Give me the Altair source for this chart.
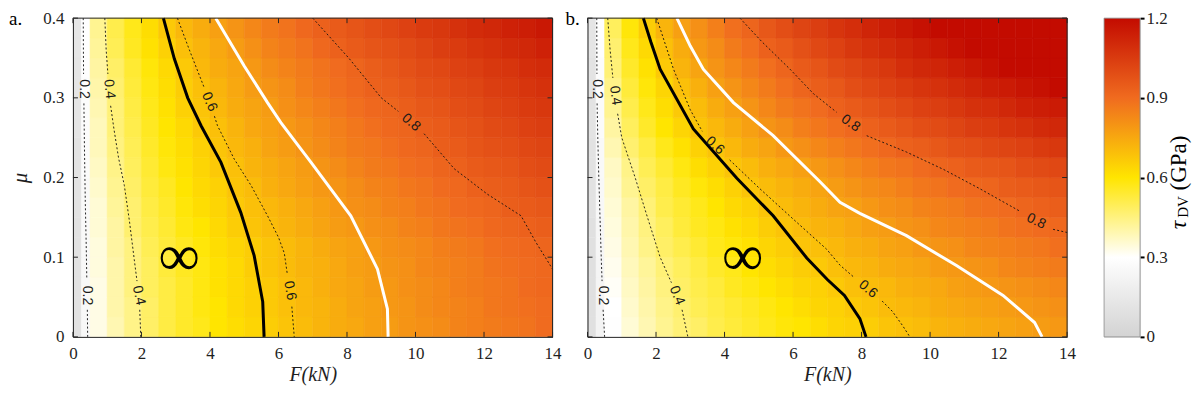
import altair as alt
import pandas as pd

# ---------------- data ----------------
X_TICKS = [0, 2, 4, 6, 8, 10, 12, 14]
Y_TICKS = [0, 0.1, 0.2, 0.3, 0.4]
CB_TICKS = [0, 0.3, 0.6, 0.9, 1.2]

CMAP_VALUES = [0, 0.3, 0.6, 0.9, 1.2]
CMAP_COLORS = ["#d3d3d3", "#ffffff", "#ffe500", "#f06b1f", "#c30b00"]

# cell edges of the colour field
F_EDGES = [0, 0.25, 0.5, 1.0, 1.5, 2.0, 2.5, 3.0, 3.5, 4.0, 4.5, 5.0, 5.5, 6.0, 6.5,
           7.0, 7.5, 8.0, 8.5, 9.0, 9.5, 10.0, 10.5, 11.0, 11.5, 12.0, 12.5, 13.0, 13.5, 14.0]
MU_EDGES = [0, 0.025, 0.05, 0.075, 0.1, 0.125, 0.15, 0.175, 0.2, 0.225, 0.25, 0.275, 0.3,
            0.325, 0.35, 0.375, 0.4]

# tau_DV colour values, one row per mu band (bottom to top), panel a
TAU_A = [
    [0.10, 0.25, 0.33, 0.39, 0.44, 0.48, 0.52, 0.55, 0.57, 0.60, 0.62, 0.64, 0.66, 0.68, 0.70, 0.72, 0.74, 0.75, 0.77, 0.78, 0.80, 0.81, 0.82, 0.84, 0.85, 0.86, 0.87, 0.88, 0.90],
    [0.10, 0.25, 0.33, 0.40, 0.44, 0.48, 0.52, 0.55, 0.58, 0.60, 0.63, 0.65, 0.67, 0.69, 0.71, 0.72, 0.74, 0.76, 0.77, 0.79, 0.80, 0.82, 0.83, 0.84, 0.85, 0.87, 0.88, 0.89, 0.90],
    [0.10, 0.25, 0.33, 0.40, 0.45, 0.49, 0.52, 0.55, 0.58, 0.61, 0.63, 0.65, 0.67, 0.69, 0.71, 0.73, 0.75, 0.76, 0.78, 0.79, 0.81, 0.82, 0.83, 0.85, 0.86, 0.87, 0.88, 0.90, 0.91],
    [0.10, 0.25, 0.34, 0.40, 0.45, 0.49, 0.53, 0.56, 0.58, 0.61, 0.63, 0.66, 0.68, 0.70, 0.72, 0.73, 0.75, 0.77, 0.78, 0.80, 0.81, 0.83, 0.84, 0.85, 0.86, 0.88, 0.89, 0.90, 0.91],
    [0.10, 0.26, 0.34, 0.41, 0.45, 0.50, 0.53, 0.56, 0.59, 0.62, 0.64, 0.66, 0.68, 0.70, 0.72, 0.74, 0.76, 0.77, 0.79, 0.81, 0.82, 0.83, 0.85, 0.86, 0.87, 0.89, 0.90, 0.91, 0.92],
    [0.10, 0.26, 0.35, 0.41, 0.47, 0.51, 0.54, 0.58, 0.60, 0.63, 0.66, 0.68, 0.70, 0.72, 0.74, 0.76, 0.78, 0.79, 0.81, 0.82, 0.84, 0.85, 0.87, 0.88, 0.89, 0.91, 0.92, 0.93, 0.94],
    [0.11, 0.26, 0.35, 0.42, 0.47, 0.52, 0.55, 0.59, 0.62, 0.64, 0.67, 0.69, 0.71, 0.73, 0.75, 0.77, 0.79, 0.81, 0.82, 0.84, 0.85, 0.87, 0.88, 0.90, 0.91, 0.92, 0.94, 0.95, 0.96],
    [0.11, 0.26, 0.36, 0.43, 0.48, 0.53, 0.56, 0.60, 0.63, 0.65, 0.68, 0.70, 0.73, 0.75, 0.77, 0.79, 0.80, 0.82, 0.84, 0.85, 0.87, 0.88, 0.90, 0.91, 0.93, 0.94, 0.95, 0.97, 0.98],
    [0.11, 0.27, 0.37, 0.44, 0.49, 0.54, 0.58, 0.61, 0.64, 0.67, 0.69, 0.72, 0.74, 0.76, 0.78, 0.80, 0.82, 0.84, 0.86, 0.87, 0.89, 0.90, 0.92, 0.93, 0.95, 0.96, 0.97, 0.99, 1.00],
    [0.11, 0.27, 0.38, 0.45, 0.50, 0.55, 0.59, 0.62, 0.65, 0.68, 0.71, 0.73, 0.76, 0.78, 0.80, 0.82, 0.84, 0.86, 0.87, 0.89, 0.91, 0.92, 0.94, 0.95, 0.97, 0.98, 0.99, 1.01, 1.02],
    [0.12, 0.28, 0.38, 0.46, 0.51, 0.56, 0.60, 0.63, 0.67, 0.69, 0.72, 0.75, 0.77, 0.79, 0.81, 0.83, 0.85, 0.87, 0.89, 0.91, 0.92, 0.94, 0.95, 0.97, 0.98, 1.00, 1.01, 1.03, 1.04],
    [0.12, 0.28, 0.39, 0.46, 0.52, 0.57, 0.61, 0.65, 0.68, 0.71, 0.74, 0.76, 0.78, 0.81, 0.83, 0.85, 0.87, 0.89, 0.91, 0.92, 0.94, 0.96, 0.97, 0.99, 1.00, 1.02, 1.03, 1.05, 1.06],
    [0.12, 0.29, 0.40, 0.47, 0.53, 0.58, 0.62, 0.66, 0.69, 0.72, 0.75, 0.78, 0.80, 0.82, 0.85, 0.87, 0.89, 0.91, 0.93, 0.94, 0.96, 0.98, 0.99, 1.01, 1.02, 1.04, 1.05, 1.07, 1.08],
    [0.12, 0.29, 0.41, 0.48, 0.54, 0.59, 0.63, 0.67, 0.71, 0.74, 0.76, 0.79, 0.82, 0.84, 0.86, 0.88, 0.90, 0.92, 0.94, 0.96, 0.98, 1.00, 1.01, 1.03, 1.04, 1.06, 1.07, 1.09, 1.10],
    [0.13, 0.30, 0.42, 0.50, 0.56, 0.61, 0.65, 0.69, 0.72, 0.75, 0.78, 0.81, 0.84, 0.86, 0.88, 0.91, 0.93, 0.95, 0.97, 0.98, 1.00, 1.02, 1.04, 1.05, 1.07, 1.08, 1.10, 1.11, 1.13],
    [0.13, 0.30, 0.43, 0.51, 0.57, 0.62, 0.67, 0.71, 0.74, 0.77, 0.80, 0.83, 0.86, 0.88, 0.91, 0.93, 0.95, 0.97, 0.99, 1.01, 1.03, 1.05, 1.06, 1.08, 1.10, 1.11, 1.13, 1.14, 1.16],
]
# panel b
TAU_B = [
    [0.09, 0.22, 0.29, 0.35, 0.39, 0.43, 0.46, 0.48, 0.51, 0.53, 0.55, 0.57, 0.59, 0.60, 0.62, 0.64, 0.65, 0.66, 0.68, 0.69, 0.70, 0.72, 0.73, 0.74, 0.75, 0.76, 0.77, 0.78, 0.79],
    [0.09, 0.22, 0.30, 0.36, 0.40, 0.44, 0.47, 0.50, 0.52, 0.54, 0.56, 0.58, 0.60, 0.62, 0.64, 0.65, 0.67, 0.68, 0.70, 0.71, 0.72, 0.74, 0.75, 0.76, 0.77, 0.78, 0.79, 0.80, 0.81],
    [0.09, 0.23, 0.31, 0.37, 0.41, 0.45, 0.48, 0.51, 0.53, 0.56, 0.58, 0.60, 0.62, 0.64, 0.65, 0.67, 0.69, 0.70, 0.71, 0.73, 0.74, 0.75, 0.77, 0.78, 0.79, 0.80, 0.81, 0.82, 0.83],
    [0.09, 0.23, 0.32, 0.38, 0.42, 0.46, 0.49, 0.52, 0.55, 0.57, 0.60, 0.62, 0.64, 0.66, 0.67, 0.69, 0.71, 0.72, 0.74, 0.75, 0.76, 0.78, 0.79, 0.80, 0.81, 0.83, 0.84, 0.85, 0.86],
    [0.09, 0.24, 0.33, 0.39, 0.44, 0.48, 0.51, 0.54, 0.57, 0.59, 0.61, 0.64, 0.66, 0.68, 0.69, 0.71, 0.73, 0.74, 0.76, 0.77, 0.79, 0.80, 0.81, 0.83, 0.84, 0.85, 0.86, 0.87, 0.89],
    [0.09, 0.24, 0.34, 0.40, 0.45, 0.49, 0.53, 0.56, 0.58, 0.61, 0.63, 0.66, 0.68, 0.70, 0.72, 0.73, 0.75, 0.77, 0.78, 0.80, 0.81, 0.83, 0.84, 0.85, 0.86, 0.88, 0.89, 0.90, 0.91],
    [0.10, 0.25, 0.35, 0.41, 0.46, 0.51, 0.54, 0.57, 0.60, 0.63, 0.65, 0.68, 0.70, 0.72, 0.74, 0.76, 0.77, 0.79, 0.81, 0.82, 0.84, 0.85, 0.86, 0.88, 0.89, 0.90, 0.92, 0.93, 0.94],
    [0.10, 0.25, 0.36, 0.43, 0.48, 0.52, 0.56, 0.59, 0.62, 0.65, 0.68, 0.70, 0.72, 0.74, 0.76, 0.78, 0.80, 0.82, 0.83, 0.85, 0.87, 0.88, 0.90, 0.91, 0.92, 0.94, 0.95, 0.96, 0.97],
    [0.10, 0.26, 0.37, 0.44, 0.50, 0.54, 0.58, 0.62, 0.65, 0.68, 0.70, 0.73, 0.75, 0.77, 0.79, 0.81, 0.83, 0.85, 0.87, 0.88, 0.90, 0.92, 0.93, 0.95, 0.96, 0.97, 0.99, 1.00, 1.01],
    [0.10, 0.26, 0.39, 0.47, 0.52, 0.57, 0.61, 0.65, 0.68, 0.71, 0.74, 0.76, 0.79, 0.81, 0.83, 0.85, 0.87, 0.89, 0.91, 0.93, 0.94, 0.96, 0.98, 0.99, 1.01, 1.02, 1.03, 1.05, 1.06],
    [0.11, 0.27, 0.41, 0.49, 0.55, 0.60, 0.64, 0.68, 0.71, 0.74, 0.77, 0.80, 0.82, 0.85, 0.87, 0.89, 0.91, 0.93, 0.95, 0.97, 0.99, 1.00, 1.02, 1.04, 1.05, 1.07, 1.08, 1.10, 1.11],
    [0.11, 0.27, 0.43, 0.51, 0.57, 0.62, 0.67, 0.70, 0.74, 0.77, 0.80, 0.83, 0.86, 0.88, 0.90, 0.93, 0.95, 0.97, 0.99, 1.01, 1.03, 1.04, 1.06, 1.08, 1.09, 1.11, 1.13, 1.14, 1.15],
    [0.11, 0.28, 0.44, 0.53, 0.59, 0.64, 0.69, 0.73, 0.77, 0.80, 0.83, 0.86, 0.89, 0.92, 0.94, 0.96, 0.99, 1.01, 1.03, 1.05, 1.07, 1.08, 1.10, 1.12, 1.14, 1.15, 1.17, 1.18, 1.20],
    [0.11, 0.28, 0.46, 0.55, 0.61, 0.67, 0.72, 0.76, 0.80, 0.83, 0.86, 0.89, 0.92, 0.95, 0.97, 1.00, 1.02, 1.04, 1.06, 1.09, 1.11, 1.12, 1.14, 1.16, 1.18, 1.20, 1.20, 1.20, 1.20],
    [0.12, 0.29, 0.47, 0.57, 0.63, 0.69, 0.74, 0.79, 0.82, 0.86, 0.89, 0.93, 0.95, 0.98, 1.01, 1.03, 1.06, 1.08, 1.10, 1.12, 1.14, 1.16, 1.18, 1.20, 1.20, 1.20, 1.20, 1.20, 1.20],
    [0.12, 0.30, 0.49, 0.59, 0.66, 0.72, 0.77, 0.81, 0.85, 0.89, 0.92, 0.96, 0.99, 1.02, 1.04, 1.07, 1.09, 1.12, 1.14, 1.16, 1.18, 1.20, 1.20, 1.20, 1.20, 1.20, 1.20, 1.20, 1.20],
]

# contour lines, (F, mu) points, split where the labels sit
A_C02 = [[(0.30, 0.40), (0.305, 0.36), (0.31, 0.33)],
         [(0.32, 0.293), (0.335, 0.24), (0.36, 0.17), (0.385, 0.12), (0.405, 0.072)],
         [(0.42, 0.034), (0.43, 0.0)]]
A_C04 = [[(0.93, 0.40), (0.97, 0.36), (1.02, 0.33)],
         [(1.10, 0.29), (1.20, 0.26), (1.33, 0.225), (1.50, 0.19), (1.65, 0.145), (1.79, 0.097), (1.87, 0.07)],
         [(1.95, 0.034), (1.98, 0.0)]]
A_C06 = [[(3.05, 0.40), (3.40, 0.36), (3.83, 0.313)],
         [(4.13, 0.277), (4.22, 0.265), (4.71, 0.223), (5.20, 0.19), (5.68, 0.152), (6.00, 0.125), (6.17, 0.105), (6.26, 0.078)],
         [(6.39, 0.038), (6.46, 0.0)]]
A_C08 = [[(7.0, 0.40), (8.05, 0.35), (9.0, 0.30), (9.5, 0.283)],
         [(10.25, 0.255), (11.13, 0.211), (12.1, 0.179), (13.08, 0.152), (13.51, 0.119), (13.93, 0.09), (14.0, 0.085)]]
A_BLACK = [(2.64, 0.40), (2.96, 0.349), (3.35, 0.30), (3.74, 0.265), (4.32, 0.219), (4.90, 0.156),
           (5.29, 0.102), (5.54, 0.044), (5.58, 0.0)]
A_WHITE = [(4.17, 0.40), (5.0, 0.34), (5.68, 0.294), (6.07, 0.269), (6.65, 0.236), (6.95, 0.219),
           (8.11, 0.152), (8.89, 0.085), (9.18, 0.035), (9.20, 0.0)]
A_LAB_F = [0.315, 0.415, 1.06, 1.92, 3.98, 6.33, 9.87]
A_LAB_MU = [0.311, 0.052, 0.311, 0.052, 0.295, 0.058, 0.269]
A_LAB_TXT = ["0.2", "0.2", "0.4", "0.4", "0.6", "0.6", "0.8"]
A_LAB_ANG = [90, 90, 84, 78, 66, 80, 41]

B_C02 = [[(0.27, 0.40), (0.275, 0.33)],
         [(0.28, 0.293), (0.30, 0.25), (0.33, 0.20), (0.40, 0.10), (0.425, 0.07)],
         [(0.455, 0.034), (0.50, 0.0)]]
B_C04 = [[(0.59, 0.40), (0.66, 0.36), (0.74, 0.325)],
         [(0.88, 0.28), (1.0, 0.25), (1.39, 0.20), (1.75, 0.15), (2.12, 0.10), (2.45, 0.068)],
         [(2.76, 0.034), (2.93, 0.0)]]
B_C06 = [[(2.02, 0.40), (2.51, 0.336), (3.0, 0.285), (3.35, 0.258)],
         [(4.15, 0.222), (5.03, 0.186), (6.0, 0.148), (6.98, 0.110), (7.37, 0.09), (7.8, 0.074)],
         [(8.6, 0.045), (8.9, 0.032), (9.2, 0.014), (9.41, 0.0)]]
B_C08 = [[(4.45, 0.40), (5.1, 0.37), (5.91, 0.336), (6.6, 0.305), (7.27, 0.282)],
         [(8.15, 0.2525), (9.31, 0.232), (10.4, 0.21), (11.45, 0.186), (12.61, 0.158)],
         [(13.59, 0.135), (14.0, 0.131)]]
B_BLACK = [(1.63, 0.40), (1.85, 0.37), (2.12, 0.336), (3.09, 0.261), (4.36, 0.199), (5.42, 0.152),
           (6.40, 0.099), (7.0, 0.072), (7.5, 0.052), (7.95, 0.023), (8.13, 0.0)]
B_WHITE = [(2.61, 0.40), (3.0, 0.365), (3.38, 0.336), (4.26, 0.294), (5.42, 0.2525), (6.78, 0.195),
           (7.37, 0.169), (7.95, 0.155), (9.31, 0.127), (10.77, 0.0895), (12.13, 0.052), (13.05, 0.018), (13.27, 0.0)]
B_LAB_F = [0.28, 0.44, 0.81, 2.61, 3.72, 8.19, 7.68, 13.1]
B_LAB_MU = [0.311, 0.052, 0.303, 0.052, 0.240, 0.060, 0.268, 0.145]
B_LAB_TXT = ["0.2", "0.2", "0.4", "0.4", "0.6", "0.6", "0.8", "0.8"]
B_LAB_ANG = [90, 90, 82, 68, 42, 40, 35, 25]

INF_A = (3.10, 0.099)
INF_B = (4.53, 0.099)

# ---------------- styles ----------------
W, H = 480, 319
SERIF = "Liberation Serif"
SANS = "Liberation Sans"
BOX = "#262626"
TXT = "#1f1f1f"
TICK = 5

CS = alt.Scale(domain=CMAP_VALUES, range=CMAP_COLORS, interpolate="rgb")
XS = alt.Scale(domain=[0, 14], nice=False, zero=False)
YS = alt.Scale(domain=[0, 0.4], nice=False, zero=False)


def heat_df(rows):
    recs = []
    for i, row in enumerate(rows):
        for j, v in enumerate(row):
            recs.append(dict(F0=F_EDGES[j], F1=F_EDGES[j + 1], m0=MU_EDGES[i], m1=MU_EDGES[i + 1], tau=v))
    return pd.DataFrame(recs)


def lines_df(contours):
    recs = []
    for cname, segs in contours:
        for k, seg in enumerate(segs):
            for i, (f, m) in enumerate(seg):
                recs.append(dict(F=f, mu=m, seg=f"{cname}-{k}", i=i))
    return pd.DataFrame(recs)


def panel(tau_rows, dashed, black, white, lab_f, lab_mu, lab_txt, lab_ang, inf, tag, show_y):
    xa = alt.Axis(values=X_TICKS, title="F(kN)", ticks=False, grid=False, domainColor=BOX,
                  domainWidth=1, labelFont=SERIF, labelFontSize=17, labelColor=TXT, labelPadding=9,
                  labelFlush=False, labelOverlap=False, titleFont=SERIF, titleFontSize=20,
                  titleFontStyle="italic", titleFontWeight="normal", titleColor=TXT, titlePadding=3,
                  zindex=1)
    if show_y:
        ya = alt.Axis(values=Y_TICKS, format="~f", title="μ", ticks=False, grid=False, domainColor=BOX,
                      domainWidth=1, labelFont=SERIF, labelFontSize=17, labelColor=TXT, labelPadding=9,
                      labelOverlap=False, titleFont=SERIF, titleFontSize=21, titleFontStyle="italic",
                      titleFontWeight="normal", titleColor=TXT, titlePadding=12, zindex=1)
    else:
        ya = alt.Axis(values=Y_TICKS, labels=False, title=None, ticks=False, grid=False,
                      domainColor=BOX, domainWidth=1, zindex=1)

    def X(f):
        return alt.X(f, scale=XS, axis=xa)

    def Y(f):
        return alt.Y(f, scale=YS, axis=ya)

    heat = alt.Chart(heat_df(tau_rows)).mark_rect(strokeWidth=0.6).encode(
        x=X("F0:Q"), x2="F1:Q", y=Y("m0:Q"), y2="m1:Q",
        color=alt.Color("tau:Q", scale=CS, legend=None),
        stroke=alt.Stroke("tau:Q", scale=CS, legend=None),
    )
    dash = alt.Chart(lines_df(dashed)).mark_line(color="#111111", strokeWidth=0.9, strokeDash=[2, 2.2]).encode(
        x=X("F:Q"), y=Y("mu:Q"), detail="seg:N", order="i:Q")
    blk = alt.Chart(lines_df([("k", [black])])).mark_line(color="black", strokeWidth=3).encode(
        x=X("F:Q"), y=Y("mu:Q"), order="i:Q")
    wht = alt.Chart(lines_df([("w", [white])])).mark_line(color="white", strokeWidth=3).encode(
        x=X("F:Q"), y=Y("mu:Q"), order="i:Q")
    labs = alt.Chart(pd.DataFrame(dict(F=lab_f, mu=lab_mu, lab=lab_txt, ang=lab_ang))).mark_text(
        font=SANS, fontSize=14, color="#1a1a1a", baseline="middle", align="center").encode(
        x=X("F:Q"), y=Y("mu:Q"), text="lab:N", angle=alt.Angle("ang:Q", scale=None))
    infm = alt.Chart(pd.DataFrame(dict(F=[inf[0]], mu=[inf[1]], s=["∞"]))).mark_text(
        font=SERIF, fontSize=58, color="black", baseline="middle", align="center").encode(
        x=X("F:Q"), y=Y("mu:Q"), text="s:N")
    xt = pd.DataFrame(dict(t=X_TICKS))
    yt = pd.DataFrame(dict(t=Y_TICKS))
    tb = alt.Chart(xt).mark_rule(color=BOX, strokeWidth=1).encode(
        x=X("t:Q"), y=alt.value(H), y2=alt.value(H - TICK))
    tt = alt.Chart(xt).mark_rule(color=BOX, strokeWidth=1).encode(
        x=X("t:Q"), y=alt.value(0), y2=alt.value(TICK))
    tl = alt.Chart(yt).mark_rule(color=BOX, strokeWidth=1).encode(
        y=Y("t:Q"), x=alt.value(0), x2=alt.value(TICK))
    tr = alt.Chart(yt).mark_rule(color=BOX, strokeWidth=1).encode(
        y=Y("t:Q"), x=alt.value(W), x2=alt.value(W - TICK))
    one = pd.DataFrame(dict(lab=[tag]))
    btop = alt.Chart(one).mark_rule(color=BOX, strokeWidth=1).encode(
        x=alt.value(0), x2=alt.value(W), y=alt.value(0))
    bright = alt.Chart(one).mark_rule(color=BOX, strokeWidth=1).encode(
        x=alt.value(W), y=alt.value(0), y2=alt.value(H))
    tagm = alt.Chart(one).mark_text(font=SERIF, fontSize=19, color="black", align="left",
                                    baseline="alphabetic").encode(
        text="lab:N", x=alt.value(-64 if show_y else -22), y=alt.value(6.5))
    return alt.layer(heat, dash, blk, wht, labs, infm, tb, tt, tl, tr, btop, bright, tagm).properties(
        width=W, height=H)


pa = panel(TAU_A, [("c2", A_C02), ("c4", A_C04), ("c6", A_C06), ("c8", A_C08)], A_BLACK, A_WHITE,
           A_LAB_F, A_LAB_MU, A_LAB_TXT, A_LAB_ANG, INF_A, "a.", True)
pb = panel(TAU_B, [("c2", B_C02), ("c4", B_C04), ("c6", B_C06), ("c8", B_C08)], B_BLACK, B_WHITE,
           B_LAB_F, B_LAB_MU, B_LAB_TXT, B_LAB_ANG, INF_B, "b.", False)

# colour bar
grad = alt.LinearGradient(
    gradient="linear",
    stops=[alt.GradientStop(color=c, offset=v / CMAP_VALUES[-1]) for v, c in zip(CMAP_VALUES, CMAP_COLORS)],
    x1=0, x2=0, y1=1, y2=0)
cb_df = pd.DataFrame(dict(lo=[CMAP_VALUES[0]], hi=[CMAP_VALUES[-1]]))
cb_rect = alt.Chart(cb_df).mark_rect(fill=grad, stroke="#8c8c8c", strokeWidth=0.8).encode(
    x=alt.value(0), x2=alt.value(36),
    y=alt.Y("lo:Q", scale=alt.Scale(domain=[0, 1.2], nice=False, zero=False),
            axis=alt.Axis(orient="right", values=CB_TICKS, format="~f", tickSize=4, tickWidth=2,
                          tickColor="black", domain=False, grid=False, labelFont=SERIF, labelFontSize=17,
                          labelColor=TXT, labelPadding=2, labelOverlap=False, title=None)),
    y2="hi:Q")


def cb_text(txt, x, y, size, style="normal"):
    return alt.Chart(pd.DataFrame(dict(t=[txt]))).mark_text(
        font=SERIF, fontSize=size, fontStyle=style, color="black", angle=270,
        align="center", baseline="middle").encode(text="t:N", x=alt.value(x), y=alt.value(y))


cbar = alt.layer(
    cb_rect,
    cb_text("τ", 75, 207, 24, "italic"),
    cb_text("DV", 79, 189, 15),
    cb_text("(GPa)", 75, 145, 23),
).properties(width=36, height=H)

panels = alt.hconcat(pa, pb, spacing=35, bounds="flush")
chart = (
    alt.hconcat(panels, cbar, spacing=27)
    .configure_view(stroke=None)
    .configure_axis(labelFont=SERIF, titleFont=SERIF)
    .configure(font=SERIF)
    .properties(padding={"left": 0, "top": 0, "right": 0, "bottom": 0})
)

chart.save("out.html", embed_options={"renderer": "svg", "actions": False})
